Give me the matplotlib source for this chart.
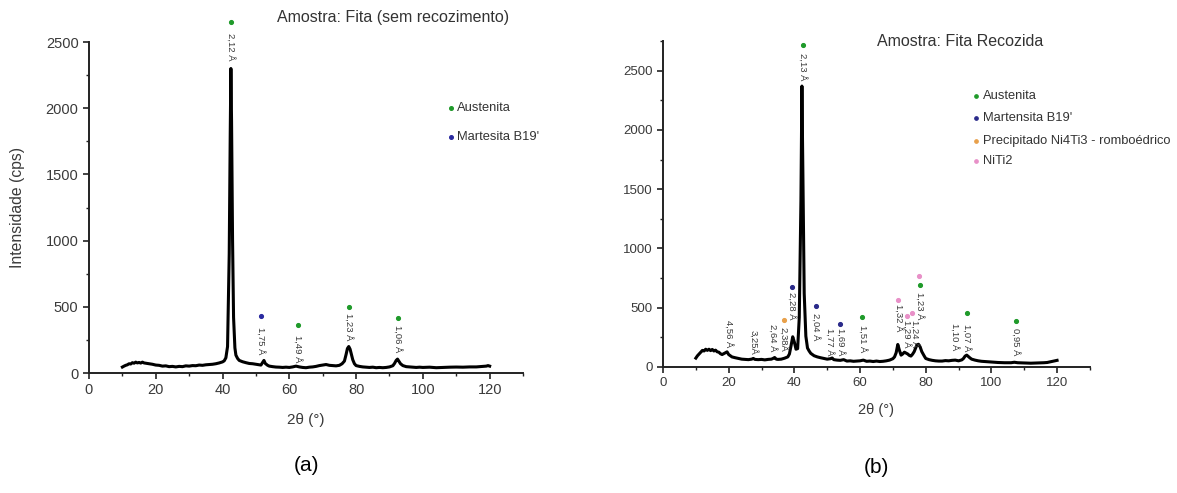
import matplotlib.pyplot as plt
from matplotlib.ticker import MultipleLocator

plt.rcParams['font.family'] = ['Liberation Sans', 'DejaVu Sans']

# ---------------------------------------------
# (a) Amostra: Fita (sem recozimento)
# ---------------------------------------------
theta_a = [10, 10.5, 11, 11.5, 12, 12.5, 13, 13.5, 14, 14.5, 15, 15.5, 16, 16.5, 17, 18, 19, 20,
           21, 22, 23, 24, 25, 26, 27, 28, 29, 30, 31, 32, 33, 34, 35, 36, 37, 38, 39, 40,
           40.5, 41, 41.5, 42, 42.3, 42.5, 42.7, 43, 43.3, 43.7, 44, 44.5, 45, 46, 47, 48,
           49, 50, 51, 51.5, 52, 52.4, 52.8, 53.5, 54, 55, 56, 57, 58, 59, 60, 61, 62, 63,
           64, 65, 66, 67, 68, 69, 70, 71, 72, 73, 74, 75, 75.8, 76.5, 77, 77.4, 77.8, 78.2,
           78.6, 79, 79.5, 80, 81, 82, 83, 84, 85, 86, 87, 88, 89, 90, 91, 91.5, 92, 92.4,
           92.8, 93.3, 94, 95, 96, 97, 98, 99, 100, 102, 104, 106, 108, 110, 112, 114, 116,
           117, 118, 119, 119.5, 120]
counts_a = [45, 52, 58, 62, 70, 68, 78, 74, 82, 76, 80, 75, 82, 76, 74, 70, 66, 60,
            58, 52, 54, 48, 50, 46, 50, 48, 54, 52, 56, 55, 60, 58, 62, 64, 66, 70, 76, 84,
            92, 115, 200, 900, 1800, 2300, 1900, 1000, 420, 190, 135, 110, 95, 85, 78, 72,
            70, 66, 62, 60, 80, 95, 72, 58, 52, 48, 45, 44, 42, 44, 42, 46, 52, 46,
            42, 40, 44, 46, 50, 56, 60, 64, 58, 56, 54, 58, 70, 90, 140, 185, 200, 180,
            140, 100, 70, 56, 50, 46, 44, 42, 44, 40, 42, 40, 42, 46, 55, 72, 95, 105,
            90, 70, 56, 48, 46, 44, 42, 44, 42, 44, 40, 42, 44, 45, 44, 46, 46,
            48, 50, 52, 56, 52]

labels_a = ['2,12 Å', '1,75 Å', '1,49 Å', '1,23 Å', '1,06 Å']
labels_a_x = [42.5, 51.5, 62.5, 77.8, 92.5]
labels_a_y = [2570, 347, 290, 450, 360]

dots_a_x = [42.5, 51.5, 62.5, 77.8, 92.5]
dots_a_y = [2650, 430, 362, 498, 415]
dots_a_phase = ['Austenita', 'Martesita', 'Austenita', 'Austenita', 'Austenita']

# ---------------------------------------------
# (b) Amostra: Fita Recozida
# ---------------------------------------------
theta_b = [10, 10.5, 11, 11.5, 12, 12.5, 13, 13.5, 14, 14.5, 15, 15.5, 16, 16.5, 17, 17.5, 18,
           18.5, 19, 19.5, 20, 20.5, 21, 22, 23, 24, 25, 26, 27, 27.5, 28, 29, 30, 31, 32, 33,
           33.5, 34, 34.5, 35, 36, 37, 38, 38.5, 39, 39.5, 40, 40.5, 41, 41.5, 42, 42.3, 42.6,
           43, 43.5, 44, 44.5, 45, 46, 47, 48, 49, 50, 51, 51.5, 52, 53, 54, 55, 56, 57, 58,
           59, 60, 61, 62, 63, 64, 65, 66, 67, 68, 69, 70, 70.5, 71, 71.5, 72, 72.5, 73, 73.5,
           74, 74.5, 75, 75.5, 76, 76.5, 77, 77.3, 77.8, 78.3, 78.8, 79.5, 80, 81, 82, 83, 84,
           85, 86, 87, 88, 89, 90, 91, 91.5, 92, 92.5, 93, 93.5, 94, 95, 96, 97, 98, 99, 100,
           102, 104, 106, 107, 108, 110, 112, 114, 116, 117, 118, 119, 120]
counts_b = [75, 95, 110, 125, 140, 135, 150, 140, 150, 138, 148, 135, 142, 128, 125, 112, 105,
            112, 120, 128, 105, 95, 85, 78, 72, 66, 64, 62, 66, 72, 64, 62, 64, 60, 64, 66,
            72, 80, 66, 64, 66, 74, 85, 110, 180, 255, 210, 150, 155, 420, 1400, 2370, 1650,
            620, 260, 160, 135, 115, 95, 85, 78, 72, 66, 70, 76, 62, 58, 56, 62, 50, 52, 48,
            50, 52, 58, 48, 50, 46, 50, 46, 48, 52, 58, 70, 85, 120, 190, 140, 100, 110, 125,
            118, 110, 98, 92, 108, 130, 165, 185, 192, 170, 130, 95, 72, 62, 56, 52, 50,
            50, 54, 52, 56, 58, 52, 60, 72, 92, 100, 88, 76, 66, 58, 52, 48, 46, 44, 42,
            38, 36, 36, 40, 36, 34, 32, 34, 36, 38, 44, 50, 56]

labels_b = ['4,56 Å', '3,25Å', '2,64 Å', '2,38Å', '2,28 Å', '2,13 Å', '2,04 Å', '1,77 Å',
            '1,69 Å', '1,51 Å', '1,32 Å', '1,29 Å', '1,24 Å', '1,23 Å', '1,10 Å', '1,07 Å',
            '0,95 Å']
labels_b_x = [19.9, 27.5, 33.5, 36.7, 39.3, 42.6, 46.6, 50.7, 54.0, 60.7, 71.7, 74.2, 76.6,
              78.3, 88.9, 92.5, 107.5]
labels_b_y = [396, 311, 362, 337, 632, 2651, 455, 330, 330, 353, 530, 396, 396, 632, 370,
              362, 328]

dots_b_x = [42.6, 39.3, 36.7, 46.6, 54.0, 60.7, 71.7, 74.2, 75.9, 77.9, 78.3, 92.5, 107.5]
dots_b_y = [2719, 674, 396, 515, 362, 421, 564, 429, 454, 766, 690, 454, 387]
dots_b_phase = ['Austenita', 'Martensita', 'Ni4Ti3', 'Martensita', 'Martensita', 'Austenita',
                'NiTi2', 'NiTi2', 'NiTi2', 'NiTi2', 'Austenita', 'Austenita', 'Austenita']

phase_colors = {
    'Austenita': '#1f9a2a',
    'Martesita': '#2a2aa0',
    'Martensita': '#2a2a8a',
    'Ni4Ti3': '#e8a04a',
    'NiTi2': '#e890c8',
}

legend_a = [('Austenita', 'Austenita'), ('Martesita', "Martesita B19'")]
legend_b = [('Austenita', 'Austenita'), ('Martensita', "Martensita B19'"),
            ('Ni4Ti3', 'Precipitado Ni4Ti3 - romboédrico'), ('NiTi2', 'NiTi2')]


fig = plt.figure(figsize=(11.77, 4.93), dpi=100)
ax1 = fig.add_axes([0.0756, 0.2434, 0.3688, 0.6714])
ax2 = fig.add_axes([0.5633, 0.2556, 0.3627, 0.6612])


def style_axes(ax, ymax, fs):
    ax.set_xlim(0, 130)
    ax.set_ylim(0, ymax)
    ax.spines['top'].set_visible(False)
    ax.spines['right'].set_visible(False)
    for s in ['left', 'bottom']:
        ax.spines[s].set_linewidth(1.4)
        ax.spines[s].set_color('#222222')
    ax.xaxis.set_major_locator(MultipleLocator(20))
    ax.xaxis.set_minor_locator(MultipleLocator(10))
    ax.yaxis.set_major_locator(MultipleLocator(500))
    ax.yaxis.set_minor_locator(MultipleLocator(250))
    ax.tick_params(which='major', direction='out', length=4, width=1.2,
                   labelsize=fs, labelcolor='#3a3a3a', color='#222222')
    ax.tick_params(which='minor', direction='out', length=2.5, width=1.0, color='#222222')
    ax.set_xticks([0, 20, 40, 60, 80, 100, 120])


def add_marks(ax, lx, ly, lt, dx, dy, dp):
    for x, y, t in zip(lx, ly, lt):
        ax.text(x, y, t, rotation=270, ha='center', va='top', fontsize=6.8,
                color='#3a3a3a', clip_on=False)
    for x, y, p in zip(dx, dy, dp):
        ax.plot(x, y, 'o', ms=2.7, color=phase_colors[p], clip_on=False)


# (a)
ax1.plot(theta_a, counts_a, color='black', lw=2.2)
style_axes(ax1, 2500, 10.5)
add_marks(ax1, labels_a_x, labels_a_y, labels_a, dots_a_x, dots_a_y, dots_a_phase)
ax1.set_ylabel('Intensidade (cps)', fontsize=11.3, color='#3a3a3a')
ax1.yaxis.set_label_coords(-0.147, 0.5)
ax1.set_xlabel('2θ (°)', fontsize=11, color='#3a3a3a')
ax1.xaxis.set_label_coords(0.5, -0.121)
ax1.text(0.70, 1.075, 'Amostra: Fita (sem recozimento)', transform=ax1.transAxes,
         ha='center', va='center', fontsize=11.5, color='#333333')
for i, (p, name) in enumerate(legend_a):
    yy = 2001 - i * 219
    ax1.plot(108.4, yy, 'o', ms=2.6, color=phase_colors[p])
    ax1.text(110.3, yy, name, ha='left', va='center', fontsize=9.3, color='#333333')
ax1.text(0.5, -0.28, '(a)', transform=ax1.transAxes, ha='center', va='center',
         fontsize=15)

# (b)
ax2.plot(theta_b, counts_b, color='black', lw=2.2)
style_axes(ax2, 2750, 9.5)
add_marks(ax2, labels_b_x, labels_b_y, labels_b, dots_b_x, dots_b_y, dots_b_phase)
ax2.set_xlabel('2θ (°)', fontsize=10.5, color='#3a3a3a')
ax2.xaxis.set_label_coords(0.5, -0.110)
ax2.text(0.695, 1.0, 'Amostra: Fita Recozida', transform=ax2.transAxes,
         ha='center', va='center', fontsize=11.5, color='#333333')
legend_y = [2290, 2104, 1910, 1742]
for (p, name), yy in zip(legend_b, legend_y):
    ax2.plot(95.3, yy, 'o', ms=2.4, color=phase_colors[p])
    ax2.text(97.4, yy, name, ha='left', va='center', fontsize=9.3, color='#333333')
ax2.text(0.5, -0.307, '(b)', transform=ax2.transAxes, ha='center', va='center',
         fontsize=15)

plt.savefig('out.png', dpi=100)
